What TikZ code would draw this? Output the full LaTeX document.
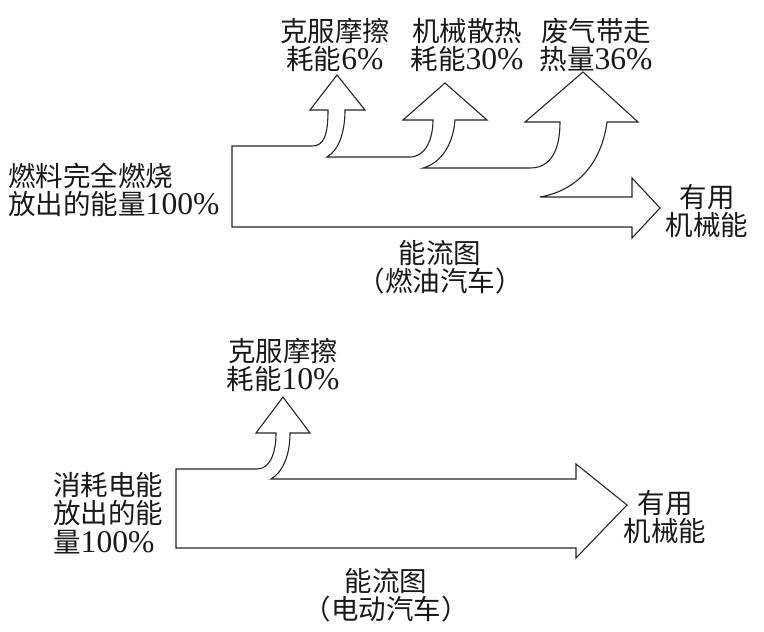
\documentclass[tikz,border=0pt]{standalone}
\usepackage{fontspec}
\setmainfont{Noto Sans CJK SC}
\newfontfamily\numfont[Scale=1.15]{Liberation Serif}
\newcommand{\pcnt}[1]{{\numfont #1\%}}
\usetikzlibrary{positioning}

\begin{document}
\begin{tikzpicture}[x=1pt, y=-1pt,
  flow/.style={draw=black!85, fill=white, line width=1.1pt, line join=miter},
  lbl/.style={align=center, inner sep=0pt, text=black!90, font=\fontsize{27.5}{28.5}\selectfont}]
\useasboundingbox (0,0) rectangle (764,632);
% fuel car
\draw[flow] (232,227) -- (232,146) -- (312,146) .. controls (324,146) and (328,135) .. (328,110)
  -- (310,110) -- (337,75) -- (365,110) -- (345,110) .. controls (345,132) and (339,150) .. (327,157)
  -- (410,157) .. controls (425,157) and (433,140) .. (433,120)
  -- (403,120) -- (445,83) -- (487,120) -- (455,120) .. controls (453,145) and (441,163) .. (423,168)
  -- (530,168) .. controls (551,168) and (560,150) .. (560,122)
  -- (525,122) -- (583,72) -- (638,122) -- (607,122) .. controls (602,160) and (580,190) .. (540,197)
  -- (632,197) -- (632,178) -- (660,208) -- (632,238) -- (632,227) -- cycle;
\node[lbl] (fric) at (335,45) {克服摩擦\\耗能\pcnt{6}};
\node[lbl] (heat) at (467,45) {机械散热\\耗能\pcnt{30}};
\node[lbl] (exhaust) at (596,45) {废气带走\\热量\pcnt{36}};
\node[lbl, anchor=west, align=left] (fuel) at (8,190) {燃料完全燃烧\\放出的能量\pcnt{100}};
\node[lbl] (useful) at (707,211) {有用\\机械能};
\node[lbl] (caption) at (440,267) {能流图\\（燃油汽车）};
% electric car
\draw[flow] (176,548) -- (176,469) -- (257,469) .. controls (269,469) and (276,455) .. (276,433)
  -- (256,433) -- (283,397) -- (310,433) -- (290,433) .. controls (290,455) and (283,472) .. (271,479)
  -- (576,479) -- (576,464) -- (627,505) -- (576,558) -- (576,548) -- cycle;
\node[lbl] (efric) at (283,365) {克服摩擦\\耗能\pcnt{10}};
\node[lbl, anchor=west, align=left] (elec) at (53,513) {消耗电能\\放出的能\\量\pcnt{100}};
\node[lbl] (euseful) at (665,517) {有用\\机械能};
\node[lbl] (ecaption) at (386,595) {能流图\\（电动汽车）};
\end{tikzpicture}
\end{document}
